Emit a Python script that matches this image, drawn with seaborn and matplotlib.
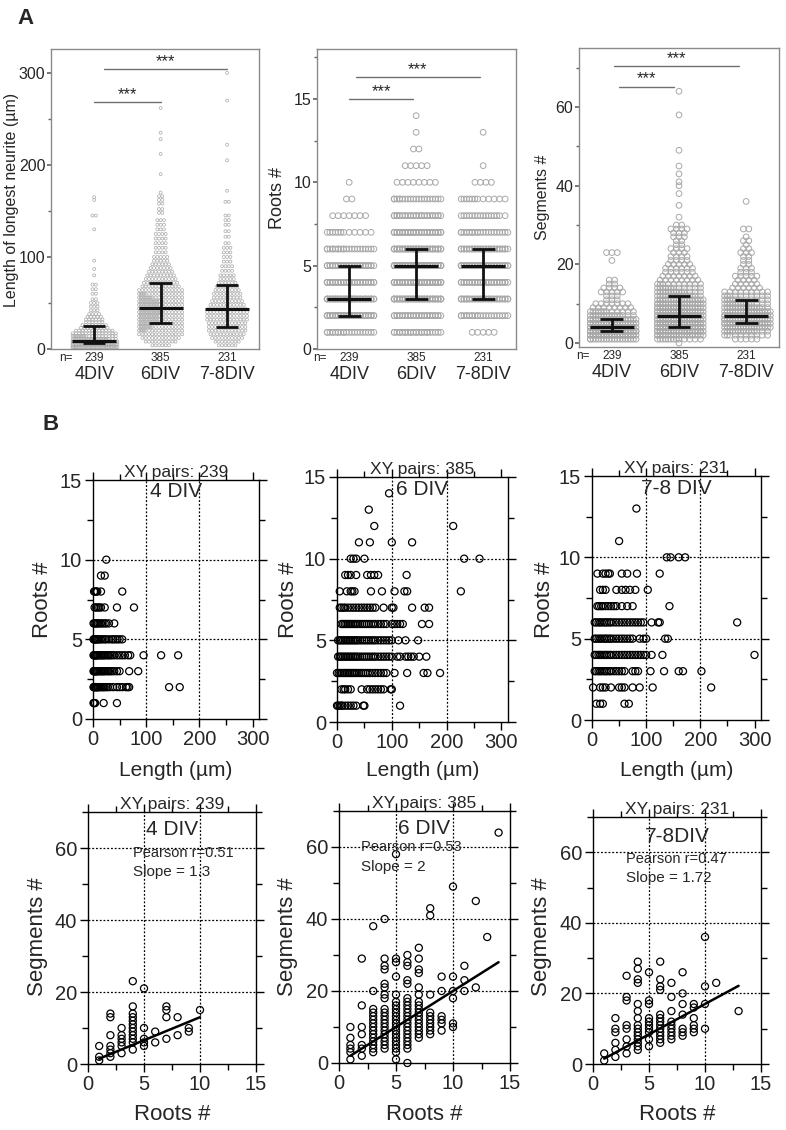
import numpy as np
import pandas as pd
import matplotlib
matplotlib.use('Agg')
import matplotlib.pyplot as plt
import seaborn as sns
from matplotlib.ticker import MultipleLocator

sns.set_theme(style='ticks')
plt.rcParams['font.family'] = ['Liberation Sans', 'DejaVu Sans']

# ---------------- data ----------------
groups = ['4DIV', '6DIV', '7-8DIV']
n_cells = [239, 385, 231]
div_titles = ['4 DIV', '6 DIV', '7-8 DIV']
div_titles_bottom = ['4 DIV', '6 DIV', '7-8DIV']

# A: longest neurite length (bin value, count)
len4_bins = [2, 5, 8, 11, 14, 17, 20, 23, 26, 29, 32, 35, 38, 42, 46, 50, 54, 60, 65, 70, 80, 87, 96, 130, 145, 162, 165]
len4_counts = [30, 41, 36, 25, 18, 14, 12, 9, 8, 6, 6, 5, 4, 3, 3, 3, 2, 2, 2, 2, 1, 1, 1, 1, 2, 1, 1]
len6_bins = [4, 8, 12, 16, 20, 24, 28, 32, 36, 40, 44, 48, 52, 56, 60, 64, 68, 72, 76, 80, 84, 88, 92, 96, 100,
             105, 110, 115, 120, 125, 130, 135, 140, 148, 152, 158, 162, 166, 170, 190, 212, 228, 235, 262]
len6_counts = [6, 10, 12, 14, 16, 18, 20, 20, 20, 21, 22, 20, 20, 18, 16, 14, 12, 11, 10, 9, 8, 7, 6, 5, 5,
               4, 4, 4, 4, 4, 3, 3, 3, 2, 2, 2, 2, 2, 1, 1, 1, 1, 1, 1]
len78_bins = [4, 8, 12, 16, 20, 24, 28, 32, 36, 40, 44, 48, 52, 56, 60, 64, 68, 72, 76, 80,
              85, 90, 95, 100, 105, 110, 115, 122, 128, 135, 140, 145, 160, 172, 205, 222, 270, 300]
len78_counts = [6, 8, 10, 11, 12, 12, 12, 13, 13, 13, 12, 11, 10, 9, 9, 8, 7, 6, 5, 5,
                4, 4, 3, 3, 3, 3, 2, 2, 2, 2, 2, 2, 2, 1, 1, 1, 1, 1]
len_med = [9, 45, 43]
len_q1 = [6, 28, 24]
len_q3 = [25, 72, 70]

# A: roots per cell
root_levels = [1, 2, 3, 4, 5, 6, 7, 8, 9, 10, 11, 12, 13, 14]
roots4_counts = [22, 48, 50, 40, 35, 22, 12, 7, 2, 1, 0, 0, 0, 0]
roots6_counts = [25, 35, 55, 55, 60, 50, 40, 28, 20, 8, 5, 2, 1, 1]
roots78_counts = [5, 22, 38, 35, 40, 35, 22, 16, 12, 4, 1, 0, 1, 0]
roots_med = [3, 5, 5]
roots_q1 = [2, 3, 3]
roots_q3 = [5, 6, 6]

# A: segments per cell
seg4_vals = [1, 2, 3, 4, 5, 6, 7, 8, 9, 10, 11, 12, 13, 14, 15, 16, 21, 23]
seg4_counts = [19, 35, 40, 35, 25, 20, 15, 12, 8, 7, 3, 3, 5, 4, 2, 2, 1, 3]
seg6_vals = list(range(0, 31)) + [32, 35, 38, 40, 41, 43, 45, 49, 58, 64]
seg6_counts = [1, 13, 20, 28, 30, 30, 28, 26, 24, 22, 20, 18, 16, 14, 12, 10, 8, 7, 6, 6, 5, 4, 4, 3, 4, 2, 2,
               3, 3, 4, 2, 1, 1, 1, 1, 1, 1, 1, 1, 1, 1]
seg78_vals = list(range(1, 28)) + [29, 36]
seg78_counts = [5, 10, 15, 18, 20, 20, 20, 18, 16, 14, 12, 10, 9, 6, 5, 4, 5, 3, 3, 2, 2, 2, 3, 2, 1, 2, 1, 2, 1]
seg_med = [4, 7, 7]
seg_q1 = [3, 4, 5]
seg_q3 = [6, 12, 11]

# B top: length values for each roots level
roots_lv_4div = [1, 2, 3, 4, 5, 6, 7, 8, 9, 10]
len_by_roots_4div = [
    [1, 2, 4, 20, 45],
    [1, 2, 3, 4, 5, 6, 7, 8, 9, 10, 12, 14, 16, 18, 20, 22, 25, 28, 32, 38, 45, 50, 55, 62, 65, 68, 143, 163],
    [1, 2, 3, 4, 5, 6, 7, 8, 10, 12, 14, 16, 18, 20, 22, 25, 28, 30, 33, 36, 40, 45, 50, 68, 85],
    [1, 2, 3, 4, 5, 6, 7, 8, 10, 12, 14, 16, 18, 20, 22, 25, 28, 30, 33, 36, 40, 45, 50, 55, 60, 66, 70, 95, 128, 160],
    [1, 2, 3, 4, 5, 6, 8, 10, 12, 15, 18, 22, 25, 30, 35, 38, 42, 46, 50, 55],
    [1, 3, 5, 7, 9, 12, 15, 18, 22, 25, 30, 40],
    [3, 6, 9, 12, 15, 22, 45, 77],
    [2, 4, 6, 8, 15, 55],
    [15, 22],
    [25],
]
roots_lv_6div = [1, 2, 3, 4, 5, 6, 7, 8, 9, 10, 11, 12, 13, 14]
len_by_roots_6div = [
    [0, 2, 5, 8, 10, 15, 20, 25, 30, 35, 48, 50, 115],
    [8, 12, 15, 20, 25, 45, 55, 60, 65, 70, 75, 80, 85, 98, 100],
    [0, 3, 6, 9, 12, 15, 18, 21, 24, 27, 30, 33, 36, 40, 44, 48, 52, 56, 60, 65, 70, 75, 80, 85, 90,
     105, 128, 158, 165, 188],
    [2, 5, 8, 11, 14, 17, 20, 23, 26, 29, 32, 35, 38, 42, 46, 50, 54, 58, 62, 66, 70, 75, 80, 85, 90, 95,
     100, 110, 115, 125, 130, 135, 140, 150, 163],
    [2, 5, 8, 11, 14, 17, 20, 23, 26, 29, 32, 35, 38, 42, 46, 50, 54, 58, 62, 66, 70, 75, 80, 85, 90, 95,
     100, 112, 125, 148],
    [8, 11, 14, 17, 20, 23, 26, 29, 32, 35, 38, 42, 46, 50, 54, 58, 62, 66, 70, 75, 80, 85, 90, 100, 105,
     110, 115, 120, 155, 168],
    [5, 8, 12, 15, 20, 25, 30, 35, 40, 45, 50, 55, 60, 65, 70, 85, 100, 103, 137, 160, 168],
    [5, 18, 25, 28, 32, 62, 82, 105, 123, 128, 226],
    [15, 20, 25, 35, 55, 62, 68, 75, 127],
    [25, 30, 35, 50, 232, 260],
    [40, 60, 100, 137],
    [68, 212],
    [58],
    [95],
]
roots_lv_78div = [1, 2, 3, 4, 5, 6, 7, 8, 9, 10, 11, 13]
len_by_roots_78div = [
    [8, 15, 20, 60, 68],
    [2, 15, 20, 25, 35, 50, 55, 60, 75, 88, 112, 220],
    [5, 8, 12, 15, 18, 22, 25, 28, 32, 35, 40, 45, 50, 55, 60, 75, 80, 85, 108, 133, 160, 168, 202],
    [5, 8, 12, 15, 18, 22, 25, 28, 32, 35, 40, 45, 50, 55, 60, 65, 70, 75, 80, 85, 90, 95, 100, 110, 130, 300],
    [5, 8, 12, 15, 18, 22, 25, 28, 32, 35, 40, 45, 50, 55, 60, 65, 70, 75, 88, 95, 100, 135, 140],
    [5, 8, 12, 15, 18, 22, 25, 28, 32, 35, 40, 45, 50, 55, 60, 65, 70, 75, 80, 85, 90, 95, 110, 122, 125, 268],
    [10, 13, 17, 20, 25, 30, 35, 40, 45, 55, 65, 75, 143],
    [15, 20, 25, 45, 55, 62, 70, 80, 103],
    [10, 20, 25, 30, 33, 55, 65, 83, 125],
    [138, 145, 160, 172],
    [50],
    [82],
]

# B bottom: segments values for each roots level
seg_by_roots_4div = [
    [1, 2, 5], [2, 3, 4, 5, 8, 13, 14], [3, 5, 6, 7, 8, 10],
    [4, 6, 7, 8, 9, 10, 11, 12, 13, 14, 16, 23], [5, 6, 7, 10, 21], [6, 9],
    [7, 13, 15, 16], [8, 13], [9, 10], [15],
]
seg_by_roots_6div = [
    [1, 3, 4, 5, 7, 10], [2, 4, 5, 8, 10, 16, 29],
    [3, 4, 5, 6, 7, 8, 9, 10, 11, 12, 13, 14, 15, 20, 38],
    [4, 5, 6, 7, 8, 9, 10, 11, 12, 13, 14, 15, 18, 19, 21, 22, 26, 27, 29, 40],
    [1, 3, 4, 5, 6, 7, 8, 9, 10, 11, 12, 13, 14, 15, 16, 17, 19, 24, 28, 29, 58],
    [0, 4, 5, 6, 7, 8, 9, 10, 11, 12, 13, 14, 15, 16, 17, 18, 22, 23, 27, 28, 30],
    [7, 8, 9, 10, 11, 12, 13, 14, 15, 16, 17, 19, 21, 25, 26, 29, 32],
    [8, 9, 10, 11, 12, 13, 14, 19, 41, 43],
    [9, 11, 12, 13, 20, 24], [10, 11, 18, 20, 24, 49], [20, 23, 27], [21, 45], [35], [64],
]
seg_by_roots_78div = [
    [1, 3], [2, 4, 6, 9, 10, 13], [3, 5, 7, 10, 11, 18, 19, 25],
    [4, 5, 6, 7, 8, 9, 10, 11, 13, 15, 17, 23, 24, 27, 29],
    [5, 7, 9, 10, 11, 12, 13, 17, 18, 26],
    [6, 7, 8, 9, 10, 11, 12, 13, 14, 21, 22, 24, 29],
    [7, 8, 9, 10, 11, 12, 15, 19, 23], [8, 9, 10, 14, 17, 20, 26],
    [9, 10, 11, 13, 16, 17], [10, 17, 22, 36], [23], [15],
]
pearson_r = [0.51, 0.53, 0.47]
slope_txt = ['1.3', '2', '1.72']
fit_slope = [1.28, 2.0, 1.72]
fit_icpt = [0.2, 0.0, -0.2]

# ---------------- layout ----------------
W, H = 786, 1130
fig = plt.figure(figsize=(W / 100, H / 100), dpi=100)


def add_ax(l, t, r, b):
    return fig.add_axes([l / W, 1 - b / H, (r - l) / W, (b - t) / H])


def ftext(x, y, s, **kw):
    fig.text(x / W, 1 - y / H, s, **kw)


def spread(values, counts, step, slots):
    # lay points of one value side by side, wrapping when the row is full
    ys, offs = [], []
    for v, c in zip(values, counts):
        if c == 0:
            continue
        k = min(c, slots)
        for j in range(c):
            p, layer = j % k, j // k
            off = (p - (k - 1) / 2) * step + (step / 2 if layer % 2 else 0)
            ys.append(v)
            offs.append(off)
    return ys, offs


def dot_panel(ax, vals, counts, med, q1, q3, step, slots, size, lw, xlim, ylim,
              sig, major, minor):
    xs, ys = [], []
    for i in range(3):
        yy, oo = spread(vals[i], counts[i], step, slots)
        xs += [i + o for o in oo]
        ys += yy
    df = pd.DataFrame({'x': xs, 'y': ys})
    sns.scatterplot(data=df, x='x', y='y', ax=ax, s=size, facecolor='none',
                    edgecolor='#a8a8a8', linewidth=lw, legend=False, zorder=2)
    for i in range(3):
        ax.hlines(med[i], i - 0.33, i + 0.33, color='#111', lw=2.2, zorder=3)
        ax.vlines(i, q1[i], q3[i], color='#111', lw=2.0, zorder=3)
        ax.hlines([q1[i], q3[i]], i - 0.17, i + 0.17, color='#111', lw=2.0, zorder=3)
    for x0, x1, y in sig:
        ax.plot([x0, x1], [y, y], color='#707070', lw=1.0)
        ax.text((x0 + x1) / 2, y, '***', ha='center', va='bottom', fontsize=12)
    ax.set_xlim(*xlim)
    ax.set_ylim(*ylim)
    ax.yaxis.set_major_locator(MultipleLocator(major))
    ax.yaxis.set_minor_locator(MultipleLocator(minor))
    ax.set_xticks([0, 1, 2])
    ax.set_xticklabels(groups, fontsize=13)
    ax.tick_params(axis='x', length=0, pad=12)
    ax.tick_params(axis='y', which='both', direction='out', color='#666', labelsize=11.5, pad=1)
    ax.tick_params(axis='y', which='major', length=3)
    ax.tick_params(axis='y', which='minor', length=2.5)
    for sp in ax.spines.values():
        sp.set_visible(True)
        sp.set_color('#8a8a8a')
        sp.set_linewidth(1.0)
    ax.set_xlabel('')
    ax.set_ylabel('')
    for i in range(3):
        ax.text(i, -0.03, str(n_cells[i]), transform=ax.get_xaxis_transform(),
                ha='center', va='center', fontsize=8.5)
    ax.text(-0.43, -0.03, 'n=', transform=ax.get_xaxis_transform(),
            ha='center', va='center', fontsize=8.5)


# Panel A
axA1 = add_ax(51, 49, 259, 349)
dot_panel(axA1, [len4_bins, len6_bins, len78_bins], [len4_counts, len6_counts, len78_counts],
          len_med, len_q1, len_q3, 0.05, 14, 4.5, 0.5, (-0.65, 2.48), (0, 326),
          [(0, 1, 268), (0.15, 2, 304)], 100, 50)
axA2 = add_ax(317, 49, 516, 349)
dot_panel(axA2, [root_levels] * 3, [roots4_counts, roots6_counts, roots78_counts],
          roots_med, roots_q1, roots_q3, 0.082, 9, 17, 0.7, (-0.48, 2.49), (0, 18),
          [(0, 0.95, 15), (0.1, 1.95, 16.3)], 5, 2.5)
axA3 = add_ax(579, 48, 779, 347)
dot_panel(axA3, [seg4_vals, seg6_vals, seg78_vals], [seg4_counts, seg6_counts, seg78_counts],
          seg_med, seg_q1, seg_q3, 0.08, 9, 17, 0.7, (-0.49, 2.49), (-1, 75),
          [(0.1, 0.93, 65.2), (0.03, 1.9, 70.3)], 20, 10)

ftext(12, 200, 'Length of longest neurite (µm)', rotation=90, ha='center', va='center', fontsize=11.5)
ftext(278, 198, 'Roots #', rotation=90, ha='center', va='center', fontsize=13)
ftext(543, 197, 'Segments #', rotation=90, ha='center', va='center', fontsize=11.5)
ftext(26, 18, 'A', fontsize=16, fontweight='bold', ha='center', va='center')
ftext(51, 425, 'B', fontsize=16, fontweight='bold', ha='center', va='center')


def style_b(ax):
    for sp in ax.spines.values():
        sp.set_visible(True)
        sp.set_color('black')
        sp.set_linewidth(1.0)
    ax.tick_params(which='both', direction='out', top=True, right=True, bottom=True, left=True,
                   color='black', width=1.0, labelsize=14.5, pad=2)
    ax.tick_params(which='major', length=6)
    ax.tick_params(which='minor', length=4)
    ax.set_xlabel('')
    ax.set_ylabel('')


def scatter_b(ax, levels, lists, by_x):
    xs, ys = [], []
    for lv, vals in zip(levels, lists):
        for v in vals:
            if by_x:
                xs.append(lv)
                ys.append(v)
            else:
                xs.append(v)
                ys.append(lv)
    sns.scatterplot(x=xs, y=ys, ax=ax, s=26, facecolor='none', edgecolor='black',
                    linewidth=0.9, legend=False, zorder=3, clip_on=False)
    return np.array(xs)


top_boxes = [(93, 480, 259, 719), (337, 477, 508, 722), (592, 476, 761, 720)]
bot_boxes = [(88, 812, 256, 1064), (339, 811, 510, 1063), (593, 817, 761, 1064)]
top_lists = [len_by_roots_4div, len_by_roots_6div, len_by_roots_78div]
top_levels = [roots_lv_4div, roots_lv_6div, roots_lv_78div]
bot_lists = [seg_by_roots_4div, seg_by_roots_6div, seg_by_roots_78div]
ylab_x = [43, 288, 545]
seg_lab_x = [37, 287, 542]
pearson_pos = [(0.27, 0.837, 0.762), (0.13, 0.857, 0.778), (0.196, 0.83, 0.753)]
title_y_bot = [0.93, 0.93, 0.923]

for k in range(3):
    # length vs roots
    ax = add_ax(*top_boxes[k])
    scatter_b(ax, top_levels[k], top_lists[k], by_x=False)
    ax.set_xlim(0, 312)
    ax.set_ylim(0, 15)
    ax.xaxis.set_major_locator(MultipleLocator(100))
    ax.xaxis.set_minor_locator(MultipleLocator(50))
    ax.yaxis.set_major_locator(MultipleLocator(5))
    ax.yaxis.set_minor_locator(MultipleLocator(2.5))
    for gx in (100, 200):
        ax.axvline(gx, color='black', ls=(0, (1.5, 1.5)), lw=0.9, zorder=1)
    for gy in (5, 10):
        ax.axhline(gy, color='black', ls=(0, (1.5, 1.5)), lw=0.9, zorder=1)
    style_b(ax)
    ax.text(0.5, 1.0, f'XY pairs: {n_cells[k]}', transform=ax.transAxes,
            ha='center', va='bottom', fontsize=12.5)
    ax.text(0.5, 0.95, div_titles[k], transform=ax.transAxes,
            ha='center', va='center', fontsize=15)
    l, t, r, b = top_boxes[k]
    ftext((l + r) / 2, 770, 'Length (µm)', ha='center', va='center', fontsize=15)
    ftext(ylab_x[k], 600, 'Roots #', rotation=90, ha='center', va='center', fontsize=16)

    # roots vs segments
    ax = add_ax(*bot_boxes[k])
    xs = scatter_b(ax, top_levels[k], bot_lists[k], by_x=True)
    fx = np.array([xs.min(), xs.max()])
    ax.plot(fx, fit_icpt[k] + fit_slope[k] * fx, color='black', lw=1.8, zorder=4)
    ax.set_xlim(0, 15)
    ax.set_ylim(0, 70)
    ax.xaxis.set_major_locator(MultipleLocator(5))
    ax.xaxis.set_minor_locator(MultipleLocator(2.5))
    ax.yaxis.set_major_locator(MultipleLocator(20))
    ax.yaxis.set_minor_locator(MultipleLocator(10))
    for gx in (5, 10):
        ax.axvline(gx, color='black', ls=(0, (1.5, 1.5)), lw=0.9, zorder=1)
    for gy in (20, 40, 60):
        ax.axhline(gy, color='black', ls=(0, (1.5, 1.5)), lw=0.9, zorder=1)
    style_b(ax)
    ax.text(0.5, 1.0, f'XY pairs: {n_cells[k]}', transform=ax.transAxes,
            ha='center', va='bottom', fontsize=12.5)
    ax.text(0.5, title_y_bot[k], div_titles_bottom[k], transform=ax.transAxes,
            ha='center', va='center', fontsize=15)
    px, py1, py2 = pearson_pos[k]
    ax.text(px, py1, f'Pearson r={pearson_r[k]}', transform=ax.transAxes,
            ha='left', va='center', fontsize=10.5)
    ax.text(px, py2, f'Slope = {slope_txt[k]}', transform=ax.transAxes,
            ha='left', va='center', fontsize=11)
    l, t, r, b = bot_boxes[k]
    ftext((l + r) / 2, 1115, 'Roots #', ha='center', va='center', fontsize=16)
    ftext(seg_lab_x[k], 937, 'Segments #', rotation=90, ha='center', va='center', fontsize=16)

fig.savefig('out.png', dpi=100)
